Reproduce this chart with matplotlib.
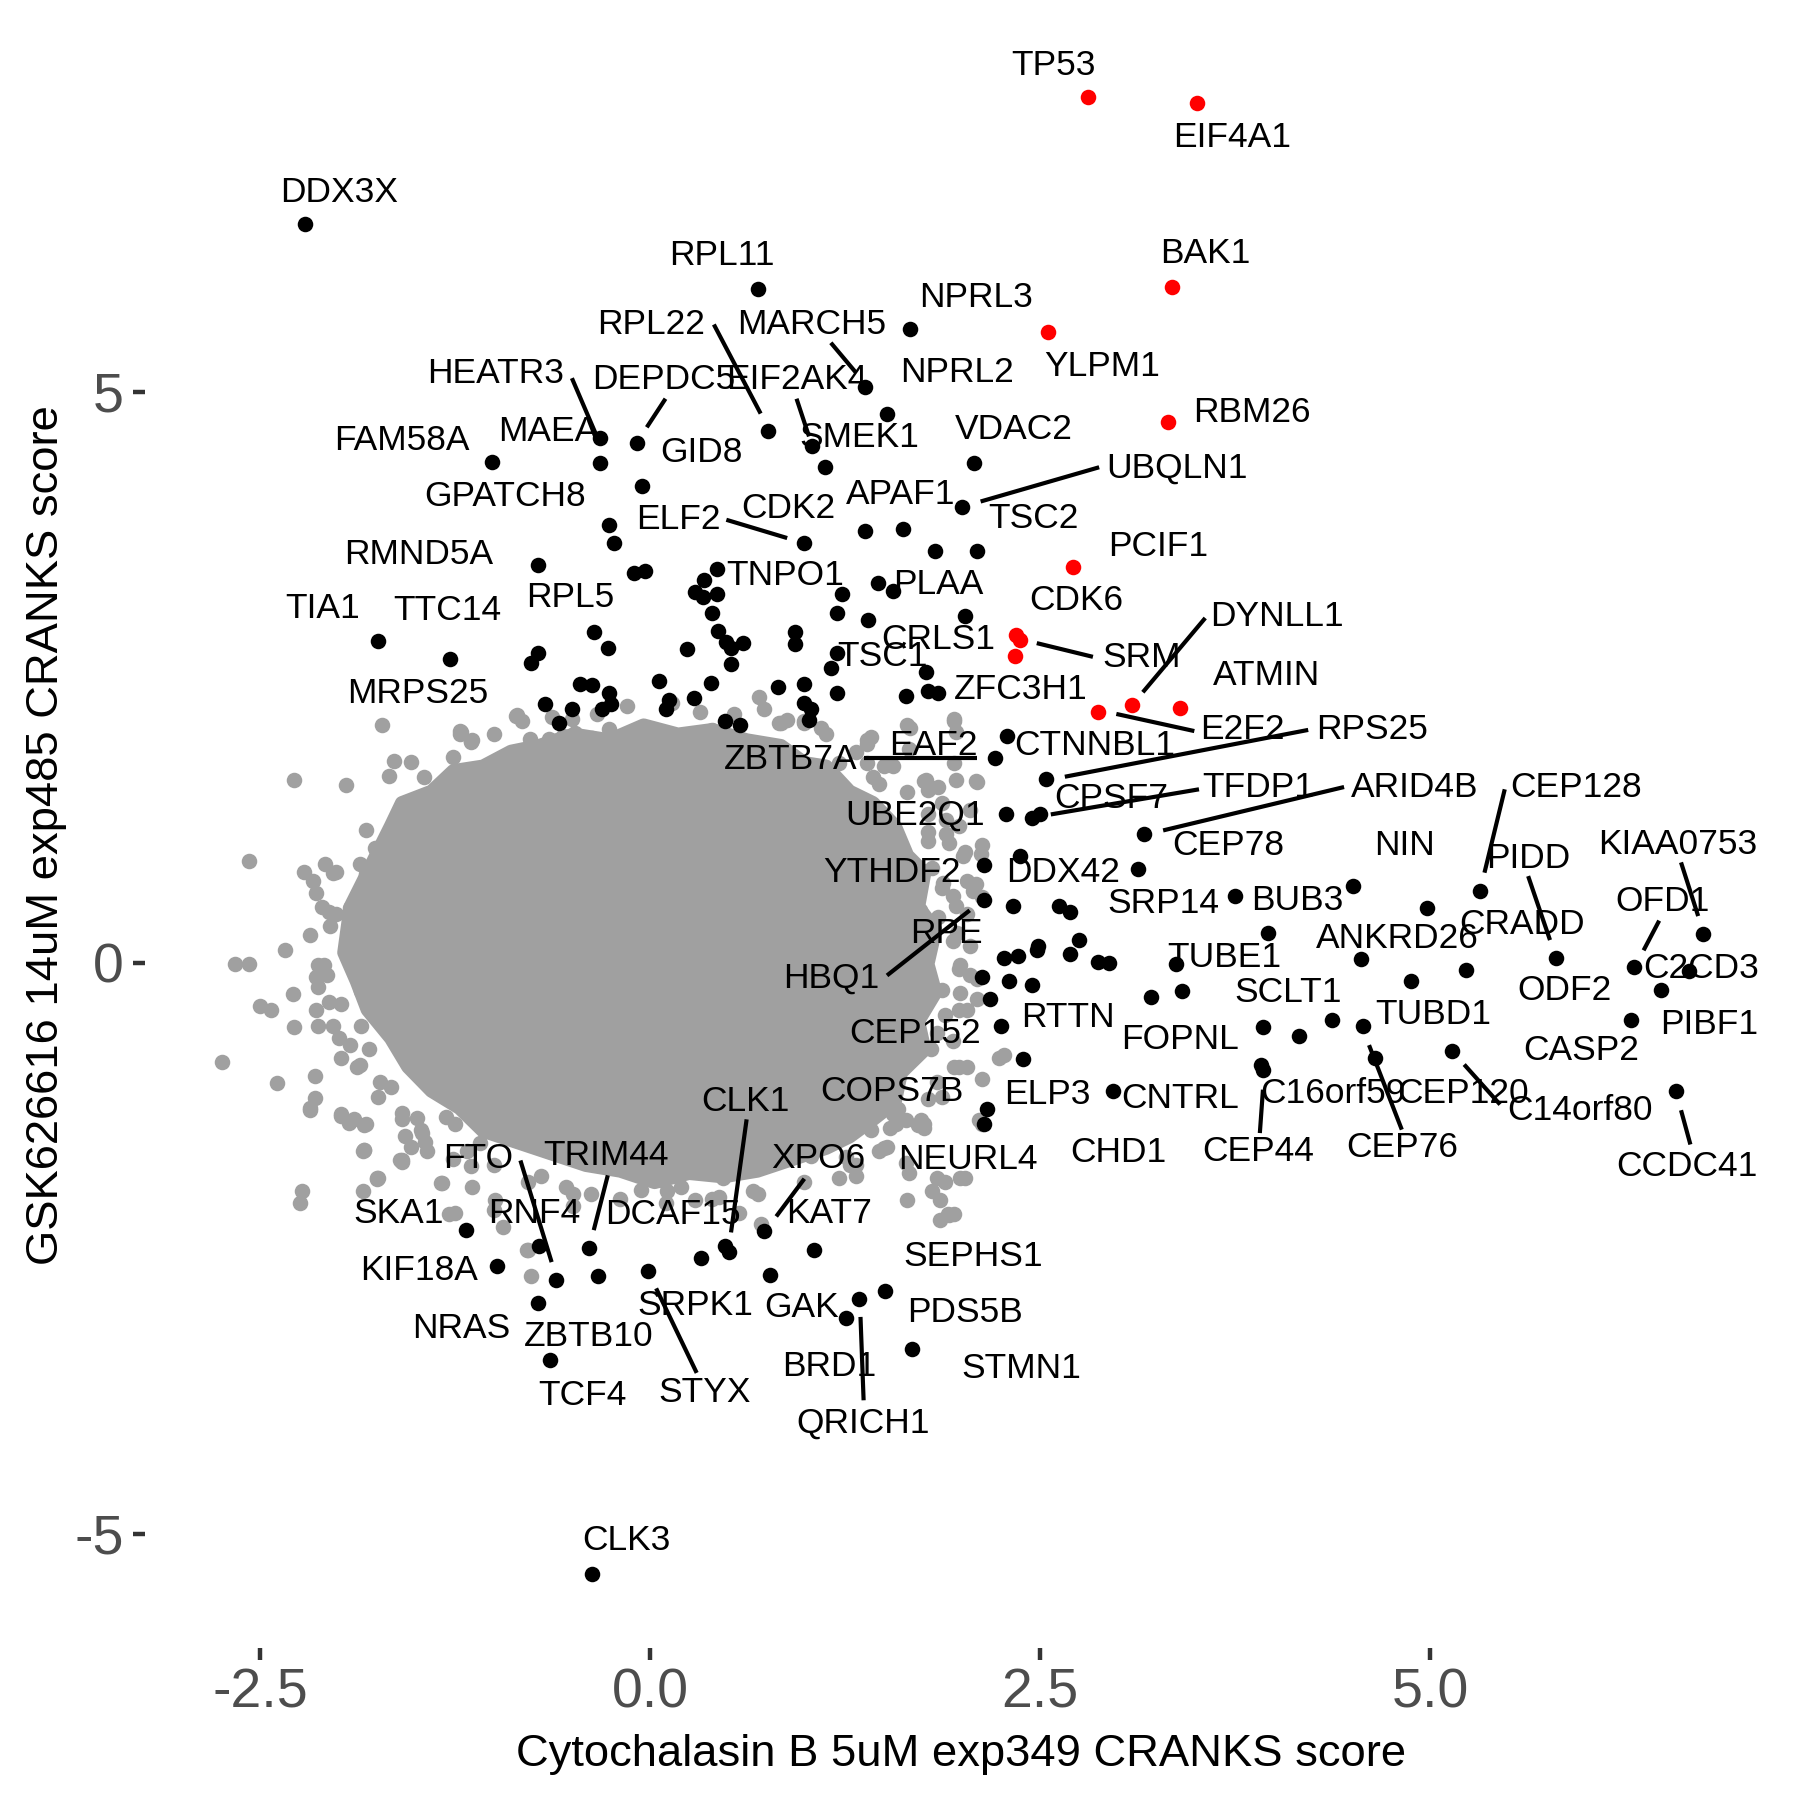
import matplotlib
matplotlib.use("Agg")
import matplotlib.pyplot as plt
from matplotlib.patches import Polygon

plt.rcParams['font.family'] = ['Liberation Sans', 'DejaVu Sans']
plt.rcParams['axes.unicode_minus'] = False

# ---- data (CRANKS scores) ----
# dense centre of the background cloud (outline of the packed grey area)
core_x = [-1.96, -1.92, -1.81, -1.66, -1.59, -1.40, -1.26, -1.07, -0.89, -0.71, -0.49, -0.26,
          -0.04, 0.18, 0.40, 0.62, 0.84, 0.99, 1.13, 1.28, 1.43, 1.57, 1.65, 1.76, 1.72, 1.83,
          1.78, 1.83, 1.72, 1.76, 1.61, 1.57, 1.43, 1.28, 1.13, 0.91, 0.69, 0.47, 0.25, 0.03,
          -0.19, -0.41, -0.63, -0.85, -1.07, -1.22, -1.40, -1.55, -1.66, -1.81, -1.88]
core_y = [0.09, 0.49, 0.79, 1.20, 1.40, 1.50, 1.68, 1.72, 1.85, 1.90, 2.00, 1.95,
          2.08, 2.00, 2.04, 1.95, 1.90, 1.75, 1.72, 1.50, 1.40, 1.20, 0.94, 0.79, 0.49, 0.29,
          -0.01, -0.26, -0.51, -0.76, -0.96, -1.22, -1.37, -1.52, -1.62, -1.72, -1.82, -1.87, -1.84, -1.92,
          -1.82, -1.77, -1.67, -1.57, -1.47, -1.27, -1.12, -0.91, -0.66, -0.41, -0.16]

# background genes outside the packed area
bg_x = [-1.72, -1.22, -1.15, -0.86, -1.26, -1.64, -1.53, -1.67, -1.45, -2.28, -1.95, -1.52, -1.59,
        -1.32, -1.27, -0.77, -0.65, -0.78, -0.56, -1.82, -1.67, -1.44, -1.37, -1.76, -2.57, -2.22,
        -2.08, -2.01, -2.16, -2.14, -1.86, -1.82, -1.77, -1.71, -1.85, -1.92, -2.06, -2.01, -2.05,
        -1.85, -1.70, -1.65, -2.34, -2.66, -2.57, -2.13, -2.09, -2.14, -2.13, -1.87, -1.80, -2.29,
        -1.85, -2.50, -2.43, -2.06, -1.98, -2.28, -2.13, -2.03, -1.85, -1.92, -1.80, -1.98, -1.86,
        -2.74, -2.15, -2.39, -1.73, -1.66, -2.15, -2.18, -1.98, -1.93, -1.82, -1.83, -1.59, -1.74,
        -2.24, -1.59, -1.49, -1.47, -1.57, -1.43, -1.33, -1.31, -1.25, -1.15, -1.17, -1.09,
        0.70, -0.85, -0.50, -1.21, -1.15, 0.83, 0.88, 0.40, 1.10, 1.42, 1.39, 1.65, 1.47, 1.77,
        1.78, 2.09, 1.39, 1.56, 1.66, 0.39, 1.67, 1.95, 1.96, 1.76, 1.85, 1.96, 2.10, 1.78, 1.90,
        2.05, 2.13, 2.12, 1.90, 1.92, 1.78, 1.78, 1.81, 1.88, 2.03, 2.07, 1.96, 2.03, 1.85, 1.97,
        2.05, 1.99, 2.10, 1.99, 2.03, 2.10, 1.89, 1.84, 1.94, 2.03, 2.27, 1.84, 1.78, 1.59, 1.54,
        1.64, 1.76, 1.52, 1.64, 1.89, 1.99, 2.11,
        -2.18, -1.98, -1.83, -1.90, -1.83, -1.59, -1.53, -1.75, -1.84, -2.23, -1.46, -1.34, -1.25,
        -1.14, -0.99, -0.94, -0.79, -0.76, -0.70, -0.54, -0.49, -0.38, -0.06, 0.07, 0.20, 0.44,
        0.57, 0.71, 1.32, 1.26, 1.56, 1.42, 1.74, 1.86, 1.81, 1.66, 1.92, 1.86,
        -1.22, -1.14, -0.48, -0.37, -0.26, -0.08, 0.13, 0.22, 0.84, 0.99, 1.39, 1.21, 1.43, 1.95,
        1.95, 1.54, 1.69, 1.87, 2.02, 2.13, 1.73, 1.58, 1.80, 1.98, 1.87, 1.65, 1.62, 1.80, 1.95,
        2.13, 2.24, 1.47, 1.54, 1.76, 1.58, 2.13, 2.02, 1.95, 1.84, 1.28, 1.47,
        -1.84, -1.75, -1.60, -1.29, -0.78, -1.00, -0.04, 0.11, 0.29, 0.47, 0.66, 0.84, 1.03, 1.21,
        1.32, 1.65, 1.91,
        -1.00, -0.82, -0.63, -0.34, -0.15, 0.14, 0.32, 0.54, 0.73, 0.99, 1.13, 1.32, 1.50, 1.65,
        1.87, 1.98, 2.01, 2.09, 1.94, -2.03, -2.10, -2.18, -2.07, -2.14, -1.99, -1.88, -1.74,
        -1.59, -1.44, -1.26, -1.00, -0.78, -0.49, -0.19, 0.10, 0.40, 0.69, 0.99, 1.28, 1.50,
        1.72, 1.87, 1.98, 1.94, 2.05, 1.98]
bg_y = [2.08, 2.00, 1.93, 2.16, 1.80, 1.77, 1.76, 1.64, 1.63, 1.60, 1.56, 1.34, 1.30,
        1.35, 1.29, 1.96, 1.96, 1.87, 1.99, 1.16, 1.13, 1.17, 1.15, 1.01, 0.89, 0.80,
        0.87, 0.80, 0.72, 0.61, 0.87, 0.78, 0.76, 0.60, 0.63, 0.48, 0.45, 0.43, 0.32,
        0.33, 0.51, 0.46, 0.11, -0.01, -0.01, -0.02, -0.02, -0.12, -0.21, -0.05, -0.12, -0.27,
        -0.25, -0.38, -0.41, -0.34, -0.36, -0.56, -0.55, -0.55, -0.55, -0.72, -0.75, -0.83, -0.89,
        -0.87, -0.99, -1.05, -1.04, -1.09, -1.18, -1.27, -1.34, -1.40, -1.41, -1.64, -1.74, -1.88,
        -2.10, -1.31, -1.36, -1.46, -1.52, -1.65, -1.93, -1.35, -1.41, -1.78, -1.65, -1.58,
        2.33, 2.17, 2.14, 2.02, 1.94, 2.10, 2.13, 2.04, 2.06, 1.98, 1.92, 2.08, 1.57, 1.60,
        1.51, 1.59, 1.75, 1.72, 1.87, 2.02, 2.06, 2.14, 2.02, 1.59, 1.54, 1.60, 1.58, 1.30, 1.25,
        1.34, 1.03, 0.95, 1.13, 1.05, 1.15, 1.07, 0.83, 0.70, 0.72, 0.63, 0.50, 0.43, 0.40, 0.26,
        0.15, -0.02, -0.14, -0.26, -0.41, -0.32, -0.46, -0.61, -0.68, -0.91, -0.81, -1.04, -1.19,
        -1.28, -1.45, -1.38, -1.45, -1.61, -1.75, -1.92, -1.88, -1.38,
        -1.29, -1.32, -1.42, -1.37, -1.64, -1.73, -1.61, -1.89, -2.00, -2.00, -1.49, -1.93, -2.19,
        -1.96, -2.08, -2.31, -2.51, -2.74, -1.87, -1.96, -2.13, -2.02, -1.99, -1.90, -1.96, -2.05,
        -2.19, -2.29, -1.87, -1.70, -1.32, -1.46, -1.38, -2.25, -2.00, -1.84, -2.21, -2.08,
        2.03, 1.95, 2.01, 1.97, 2.05, 2.03, 1.97, 1.95, 2.10, 2.12, 1.95, 1.75, 1.63, 1.75,
        2.12, 0.97, 0.81, 0.66, 0.97, 0.58, 0.46, 0.27, 0.19, -0.05, -0.24, -0.36, -0.59, -0.75,
        -0.91, -1.02, -0.83, -0.91, -1.14, -1.41, -1.41, -1.41, -1.88, -2.20, -1.88, -1.45, -1.65,
        -1.65, -1.88, -1.73, -2.20, -2.51, -2.16, -1.88, -2.00, -2.08, -1.88, -2.00, -1.73, -1.69,
        -1.88, -1.77, -2.08, -2.20,
        2.00, 2.12, 2.15, 2.18, 2.25, 2.28, 2.20, 2.18, 2.22, 2.10, 2.00, 1.85, 1.72, 1.50,
        1.40, 1.20, 0.94, 0.69, 0.59, 0.79, 0.49, 0.24, -0.11, -0.41, -0.66, -0.91, -1.17,
        -1.37, -1.57, -1.72, -1.77, -1.92, -2.02, -2.07, -2.10, -2.07, -2.02, -1.92, -1.77, -1.62,
        -1.42, -1.17, -0.91, 0.19, -0.11, -0.41]

# hits (black)
hit_x = [-2.21, 0.69, 1.67, 1.38, 1.52, 0.76, -0.08, 1.04, 1.12, 2.08, -0.05, -0.32, -0.32,
         -1.01, 2.00, 0.99, 1.38, 1.62, 1.83, 2.10, -0.26, -0.23, -0.10, -0.03, -0.72, 0.43,
         0.35, 0.29, 0.34, 0.43, 1.23, 1.46, 1.56, 0.40, 1.20, 1.40, 2.02, 0.435, 0.49, 0.52,
         0.60, 0.52, 0.24, 0.93, 0.93, 1.20, 1.16, 1.77, -0.36, -0.27, -0.72, -0.76, -1.74,
         -1.28, -0.67, -0.50, -0.58, -0.45, -0.37, -0.26, -0.25, -0.31, 0.06, 0.12, 0.10, 0.28,
         0.39, 0.48, 0.58, 0.82, 0.99, 0.99, 1.03, 1.02, 1.20, 1.64, 1.78, 1.85, 2.29, 2.21,
         2.54, 2.28, 2.45, 2.50, 3.17, 2.37, 2.14, 3.13, 2.14, 2.33, 2.62, 2.69, 2.27, 2.36,
         2.48, 2.49, 2.69, 2.75, 2.87, 2.94, 3.37, 2.30, 2.45, 2.18, 2.13, 3.21, 3.41, 2.25,
         2.39, 2.16, 2.14, 2.97, 3.75, 4.51, 4.98, 5.32, 3.96, 4.56, 4.88, 5.23, 5.81, 6.31,
         6.66, 6.75, 6.48, 6.29, 6.58, 5.14, 4.57, 4.37, 4.16, 3.93, 3.92, 3.93, 4.65, -1.18,
         -0.98, -0.71, -0.60, -0.39, -0.33, -0.01, -0.72, -0.64, 0.33, 0.48, 0.51, 0.73, 0.77,
         1.05, 1.34, 1.51, 1.26, 1.68, -0.37]
hit_y = [6.47, 5.90, 5.55, 5.04, 4.81, 4.66, 4.55, 4.53, 4.34, 4.38, 4.18, 4.60, 4.38,
         4.39, 3.99, 3.68, 3.78, 3.80, 3.61, 3.61, 3.83, 3.68, 3.41, 3.43, 3.48, 3.45,
         3.35, 3.25, 3.20, 3.23, 3.23, 3.33, 3.26, 3.06, 3.06, 3.00, 3.04, 2.91, 2.81, 2.76,
         2.80, 2.62, 2.75, 2.90, 2.79, 2.71, 2.58, 2.55, 2.90, 2.76, 2.71, 2.63, 2.82,
         2.66, 2.27, 2.22, 2.10, 2.44, 2.43, 2.36, 2.27, 2.22, 2.47, 2.30, 2.22, 2.32,
         2.45, 2.12, 2.08, 2.42, 2.44, 2.28, 2.22, 2.13, 2.36, 2.34, 2.38, 2.36, 1.99, 1.79,
         1.61, 1.30, 1.27, 1.30, 1.13, 0.94, 0.86, 0.82, 0.55, 0.50, 0.50, 0.45, 0.04, 0.06,
         0.11, 0.15, 0.08, 0.20, 0.01, 0.00, -0.01, -0.16, -0.19, -0.32, -0.12, -0.30, -0.25, -0.55,
         -0.84, -1.28, -1.41, -1.12, 0.59, 0.67, 0.48, 0.63, 0.26, 0.03, -0.16, -0.06, 0.04, -0.04,
         -0.07, 0.25, -0.24, -0.50, -1.12, -0.77, -0.55, -0.50, -0.64, -0.56, -0.89, -0.94, -0.83, -2.34,
         -2.65, -2.48, -2.78, -2.50, -2.74, -2.70, -2.98, -3.48, -2.58, -2.48, -2.53, -2.35, -2.73,
         -2.51, -2.94, -2.87, -3.11, -3.38, -5.35]

# hits shared by both screens (red)
red_x = [2.81, 3.51, 3.35, 2.55, 3.32, 2.71, 2.35, 2.37, 2.34, 2.87, 3.09, 3.40]
red_y = [7.58, 7.53, 5.92, 5.52, 4.74, 3.47, 2.87, 2.83, 2.69, 2.20, 2.26, 2.23]

# gene labels
label_text = ['TP53', 'EIF4A1', 'DDX3X', 'BAK1', 'RPL11', 'NPRL3', 'RPL22', 'MARCH5', 'YLPM1',
              'HEATR3', 'DEPDC5', 'EIF2AK4', 'NPRL2', 'RBM26', 'FAM58A', 'MAEA', 'SMEK1', 'VDAC2',
              'GID8', 'UBQLN1', 'GPATCH8', 'APAF1', 'CDK2', 'ELF2', 'TSC2', 'PCIF1', 'RMND5A',
              'TNPO1', 'PLAA', 'RPL5', 'TIA1', 'TTC14', 'CDK6', 'DYNLL1', 'CRLS1', 'SRM', 'TSC1',
              'ATMIN', 'MRPS25', 'ZFC3H1', 'E2F2', 'RPS25', 'EAF2', 'CTNNBL1', 'ZBTB7A', 'CPSF7',
              'TFDP1', 'ARID4B', 'CEP128', 'UBE2Q1', 'CEP78', 'NIN', 'PIDD', 'KIAA0753', 'YTHDF2',
              'DDX42', 'SRP14', 'BUB3', 'OFD1', 'CRADD', 'ANKRD26', 'RPE', 'TUBE1', 'C2CD3', 'HBQ1',
              'ODF2', 'SCLT1', 'RTTN', 'TUBD1', 'PIBF1', 'CEP152', 'FOPNL', 'CASP2', 'COPS7B',
              'ELP3', 'CNTRL', 'C16orf59', 'CEP120', 'C14orf80', 'CLK1', 'CHD1', 'CEP44', 'CEP76',
              'CCDC41', 'FTO', 'TRIM44', 'XPO6', 'NEURL4', 'SKA1', 'RNF4', 'DCAF15', 'KAT7',
              'SEPHS1', 'KIF18A', 'SRPK1', 'GAK', 'PDS5B', 'NRAS', 'ZBTB10', 'BRD1', 'STMN1',
              'TCF4', 'STYX', 'QRICH1', 'CLK3']

# ---- label layout (repelled positions, data units) ----
label_x = [2.59, 3.73, -1.99, 3.56, 0.46, 2.09, 0.01, 1.04, 2.90,
           -0.99, 0.09, 0.94, 1.97, 3.86, -1.59, -0.65, 1.34, 2.33,
           0.33, 3.38, -0.93, 1.61, 0.89, 0.18, 2.46, 3.26, -1.48,
           0.87, 1.85, -0.51, -2.10, -1.30, 2.73, 4.02, 1.85, 3.15, 1.49,
           3.95, -1.49, 2.38, 3.80, 4.63, 1.82, 2.85, 0.90, 2.96,
           3.90, 4.90, 5.94, 1.70, 3.71, 4.84, 5.63, 6.59, 1.55,
           2.65, 3.29, 4.15, 6.49, 5.59, 4.79, 1.90, 3.68, 6.74, 1.16,
           5.86, 4.09, 2.68, 5.02, 6.79, 1.70, 3.40, 5.97, 1.55,
           2.55, 3.40, 4.38, 5.21, 5.96, 0.61, 3.00, 3.90, 4.82,
           6.65, -1.10, -0.28, 1.08, 2.04, -1.61, -0.74, 0.15, 1.15,
           2.07, -1.48, 0.29, 0.97, 2.02, -1.21, -0.39, 1.15, 2.38,
           -0.43, 0.35, 1.37, -0.15]
label_y = [7.86, 7.23, 6.75, 6.21, 6.19, 5.83, 5.59, 5.59, 5.22,
           5.16, 5.11, 5.11, 5.17, 4.82, 4.57, 4.65, 4.60, 4.67,
           4.47, 4.33, 4.08, 4.10, 3.98, 3.88, 3.89, 3.65, 3.58,
           3.39, 3.31, 3.20, 3.10, 3.09, 3.17, 3.03, 2.83, 2.67, 2.68,
           2.52, 2.36, 2.39, 2.04, 2.04, 1.90, 1.90, 1.78, 1.44,
           1.54, 1.54, 1.54, 1.29, 1.03, 1.03, 0.91, 1.04, 0.79,
           0.79, 0.52, 0.55, 0.54, 0.34, 0.21, 0.26, 0.05, -0.05, -0.13,
           -0.24, -0.26, -0.48, -0.45, -0.54, -0.62, -0.67, -0.77, -1.13,
           -1.15, -1.19, -1.14, -1.14, -1.29, -1.21, -1.66, -1.65, -1.62,
           -1.78, -1.71, -1.69, -1.71, -1.72, -2.19, -2.19, -2.20, -2.19,
           -2.57, -2.69, -3.00, -3.02, -3.06, -3.20, -3.27, -3.53, -3.55,
           -3.79, -3.76, -4.03, -5.06]

# leader segments (label side -> point side)
leaders = [(-0.50, 5.12, -0.34, 4.61), (0.41, 5.59, 0.71, 4.81), (1.16, 5.43, 1.32, 5.17),
           (0.10, 4.94, -0.02, 4.69), (0.94, 4.94, 1.02, 4.61), (2.88, 4.34, 2.12, 4.04),
           (0.49, 3.88, 0.88, 3.72), (2.84, 2.68, 2.48, 2.80), (3.56, 3.02, 3.16, 2.37),
           (3.49, 2.03, 2.99, 2.18), (1.37, 1.79, 2.10, 1.79), (4.22, 2.04, 2.66, 1.63),
           (3.52, 1.52, 2.57, 1.30), (4.45, 1.54, 3.29, 1.16), (5.48, 1.52, 5.35, 0.79),
           (5.63, 0.76, 5.77, 0.20), (6.61, 0.88, 6.72, 0.41), (6.47, 0.37, 6.37, 0.11),
           (6.67, -1.59, 6.61, -1.29), (5.45, -1.24, 5.22, -0.89), (4.82, -1.46, 4.61, -0.72),
           (3.91, -1.49, 3.93, -1.11), (1.52, -0.11, 2.05, 0.46), (0.62, -1.37, 0.52, -2.36),
           (0.99, -1.89, 0.81, -2.22), (-0.83, -1.73, -0.63, -2.62), (-0.27, -1.86, -0.36, -2.34),
           (0.30, -3.59, 0.04, -2.85), (1.37, -3.83, 1.35, -3.10)]

grey = '#A0A0A0'
dot = 125

fig = plt.figure(figsize=(18, 18), dpi=100)
ax = fig.add_axes([0.0807, 0.0846, 0.9065, 0.9024])

ax.add_patch(Polygon(list(zip(core_x, core_y)), closed=True, facecolor=grey, edgecolor=grey,
                     linewidth=10, joinstyle='round', zorder=1))
ax.scatter(bg_x, bg_y, s=dot, color=grey, linewidths=0, zorder=2)
ax.scatter(hit_x, hit_y, s=dot, color='black', linewidths=0, zorder=3)
ax.scatter(red_x, red_y, s=dot, color='#FF0000', linewidths=0, zorder=4)

for x0, y0, x1, y1 in leaders:
    ax.plot([x0, x1], [y0, y1], color='black', linewidth=3.0, solid_capstyle='butt', zorder=5)

for t, x, y in zip(label_text, label_x, label_y):
    ax.text(x, y, t, fontsize=25.5, ha='center', va='center', color='black', zorder=6)

ax.set_xlim(-3.235, 7.225)
ax.set_ylim(-5.9965, 8.2265)
ax.set_xticks([-2.5, 0, 2.5, 5])
ax.set_xticklabels(['-2.5', '0.0', '2.5', '5.0'])
ax.set_yticks([-5, 0, 5])
ax.set_yticklabels(['-5', '0', '5'])
ax.tick_params(axis='both', labelsize=40, labelcolor='#4D4D4D', color='#333333',
               length=8.5, width=3.2, direction='out')
ax.tick_params(axis='x', pad=6)
ax.tick_params(axis='y', pad=7)
for s in ax.spines.values():
    s.set_visible(False)

ax.set_xlabel('Cytochalasin B 5uM exp349 CRANKS score', fontsize=32.7)
ax.set_ylabel('GSK626616 14uM exp485 CRANKS score', fontsize=32.7)
ax.xaxis.set_label_coords(0.5, -0.053)
ax.yaxis.set_label_coords(-0.048, 0.5)

fig.savefig('out.png', dpi=100)
